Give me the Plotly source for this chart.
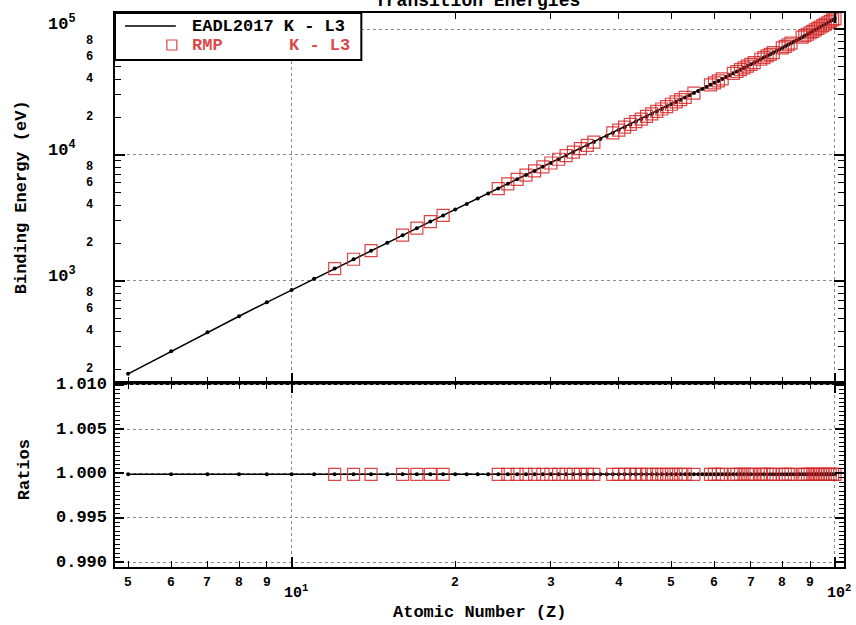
import math
import plotly.graph_objects as go

# ---------------- data ----------------
Z_EADL = [5, 6, 7, 8, 9, 10, 11, 12, 13, 14, 15, 16, 17, 18, 19, 20, 21, 22, 23, 24,
          25, 26, 27, 28, 29, 30, 31, 32, 33, 34, 35, 36, 37, 38, 39, 40, 41, 42, 43, 44,
          45, 46, 47, 48, 49, 50, 51, 52, 53, 54, 55, 56, 57, 58, 59, 60, 61, 62, 63, 64,
          65, 66, 67, 68, 69, 70, 71, 72, 73, 74, 75, 76, 77, 78, 79, 80, 81, 82, 83, 84,
          85, 86, 87, 88, 89, 90, 91, 92, 93, 94, 95, 96, 97, 98, 99, 100]
E_EADL = [183, 277, 392, 525, 677, 849, 1041, 1254, 1487, 1740, 2014, 2308, 2622, 2958, 3314, 3692,
          4091, 4511, 4952, 5415, 5899, 6404, 6930, 7478, 8048, 8639, 9252, 9886, 10544, 11222,
          11924, 12649, 13395, 14165, 14958, 15775, 16615, 17479, 18367, 19279, 20216, 21177,
          22163, 23174, 24210, 25271, 26359, 27472, 28612, 29779, 30973, 32194, 33442, 34720,
          36026, 37361, 38725, 40118, 41542, 42996, 44482, 45998, 47547, 49128, 50742, 52389,
          54070, 55790, 57532, 59318, 61140, 63001, 64896, 66832, 68804, 70819, 72872, 74969,
          77108, 79290, 81520, 83780, 86100, 88470, 90884, 93350, 95868, 98439, 101059, 103734,
          106472, 109271, 112121, 115032, 118012, 121058]
R_EADL = [0.9999, 0.9999, 0.9999, 0.9999, 0.9999, 0.9999, 0.9999, 0.9999, 0.9999, 0.9999,
          0.9999, 0.9999, 0.9999, 0.9999, 0.9999, 0.9999, 0.9999, 0.9999, 0.9999, 0.9999,
          0.9999, 0.9999, 0.9999, 0.9999, 0.9999, 0.9999, 0.9999, 0.9999, 0.9999, 0.9999,
          0.9999, 0.9999, 0.9999, 0.9999, 0.9999, 0.9999, 0.9999, 0.9999, 0.9999, 0.9999,
          0.9999, 0.9999, 0.9999, 0.9999, 0.9999, 0.9999, 0.9999, 0.9999, 0.9999, 0.9999,
          0.9999, 0.9999, 0.9999, 0.9999, 0.9999, 0.9999, 0.9999, 0.9999, 0.9999, 0.9999,
          0.9999, 0.9999, 0.9999, 0.9999, 0.9999, 0.9999, 0.9999, 0.9999, 0.9999, 0.9999,
          0.9999, 0.9999, 0.9999, 0.9999, 0.9999, 0.9999, 0.9999, 0.9999, 0.9999, 0.9999,
          0.9999, 0.9999, 0.9999, 0.9999, 0.9999, 0.9999, 0.9999, 0.9999, 0.9999, 0.9999,
          0.9999, 0.9999, 0.9999, 0.9999, 0.9999, 0.9999]

Z_RMP = [12, 13, 14, 16, 17, 18, 19, 24, 25, 26, 27, 28, 29, 30, 31, 32, 33, 34, 35, 36,
         39, 40, 41, 42, 43, 44, 45, 46, 47, 48, 49, 50, 51, 52, 53, 55, 59, 60, 61, 62,
         65, 66, 67, 68, 69, 70, 71, 73, 74, 75, 76, 77, 80, 81, 82, 83, 87, 88, 89, 90,
         91, 92, 93, 94, 95, 96, 97, 98, 99, 100]
E_RMP = [1254, 1487, 1740, 2308, 2622, 2958, 3314, 5415, 5899, 6404, 6930, 7478, 8048, 8639,
         9252, 9886, 10544, 11222, 11924, 12649, 14958, 15775, 16615, 17479, 18367, 19279,
         20216, 21177, 22163, 23174, 24210, 25271, 26359, 27472, 28612, 30973, 36026, 37361,
         38725, 40118, 44482, 45998, 47547, 49128, 50742, 52389, 54070, 57532, 59318, 61140,
         63001, 64896, 70819, 72872, 74969, 77108, 86100, 88470, 90884, 93350, 95868, 98439,
         101059, 103734, 106472, 109271, 112121, 115032, 118012, 121058]
R_RMP = [0.9999, 0.9999, 0.9999, 0.9999, 0.9999, 0.9999, 0.9999, 0.9999, 0.9999, 0.9999,
         0.9999, 0.9999, 0.9999, 0.9999, 0.9999, 0.9999, 0.9999, 0.9999, 0.9999, 0.9999,
         0.9999, 0.9999, 0.9999, 0.9999, 0.9999, 0.9999, 0.9999, 0.9999, 0.9999, 0.9999,
         0.9999, 0.9999, 0.9999, 0.9999, 0.9999, 0.9999, 0.9999, 0.9999, 0.9999, 0.9999,
         0.9999, 0.9999, 0.9999, 0.9999, 0.9999, 0.9999, 0.9999, 0.9999, 0.9999, 0.9999,
         0.9999, 0.9999, 0.9999, 0.9999, 0.9999, 0.9999, 0.9999, 0.9999, 0.9999, 0.9999,
         0.9999, 0.9999, 0.9999, 0.9999, 0.9999, 0.9999, 0.9999, 0.9999, 0.9999, 0.9999]

X_TICK_VALS = [5, 6, 7, 8, 9, 10, 20, 30, 40, 50, 60, 70, 80, 90, 100]
X_TICK_TEXT = ["5", "6", "7", "8", "9", "10<sup>1</sup>", "2", "3", "4", "5", "6", "7", "8", "9",
               "10<sup>2</sup>"]
X_MAJOR = [10, 100]
X_MINOR = [5, 6, 7, 8, 9, 20, 30, 40, 50, 60, 70, 80, 90]

Y_MAJOR_VALS = [1e3, 1e4, 1e5]
Y_MAJOR_TEXT = ["10<sup>3</sup>", "10<sup>4</sup>", "10<sup>5</sup>"]
Y_MINOR_LABEL_VALS = [200, 400, 600, 800, 2000, 4000, 6000, 8000, 20000, 40000, 60000, 80000]
Y_MINOR_LABEL_TEXT = ["2", "4", "6", "8", "2", "4", "6", "8", "2", "4", "6", "8"]
Y_MINOR_TICKS = [200, 300, 400, 500, 600, 700, 800, 900, 2000, 3000, 4000, 5000, 6000, 7000,
                 8000, 9000, 20000, 30000, 40000, 50000, 60000, 70000, 80000, 90000]

R_TICK_VALS = [0.990, 0.995, 1.000, 1.005, 1.010]
R_TICK_TEXT = ["0.990", "0.995", "1.000", "1.005", "1.010"]

TITLE = "Transition Energies"
X_TITLE = "Atomic Number (Z)"
Y_TITLE = "Binding Energy (eV)"
R_TITLE = "Ratios"
LEG1 = "EADL2017 K - L3"
LEG2A = "RMP"
LEG2B = "K - L3"

# ---------------- style ----------------
W, H = 856, 625
ML, MR, MT, MB = 115, 10, 13, 58
PW, PH = W - ML - MR, H - MT - MB
SPLIT = (567 - 383) / PH
RED = "rgba(214,38,38,0.85)"
MONO = "Liberation Mono"


def px(x):
    return (x - ML) / PW


def py(y):
    return (H - MB - y) / PH


fig = go.Figure()
fig.add_trace(go.Scatter(x=Z_EADL, y=E_EADL, mode="lines+markers", xaxis="x", yaxis="y",
                         line=dict(color="black", width=1.5), marker=dict(size=4, color="black"),
                         showlegend=False))
fig.add_trace(go.Scatter(x=Z_RMP, y=E_RMP, mode="markers", xaxis="x", yaxis="y",
                         marker=dict(symbol="square-open", size=12, color=RED, line=dict(width=1.2)),
                         showlegend=False))
fig.add_trace(go.Scatter(x=Z_EADL, y=R_EADL, mode="lines+markers", xaxis="x2", yaxis="y2",
                         line=dict(color="black", width=1.5), marker=dict(size=4, color="black"),
                         showlegend=False))
fig.add_trace(go.Scatter(x=Z_RMP, y=R_RMP, mode="markers", xaxis="x2", yaxis="y2",
                         marker=dict(symbol="square-open", size=12, color=RED, line=dict(width=1.2)),
                         showlegend=False))

xrange = [math.log10(4.73), math.log10(103.9)]
common_x = dict(type="log", range=xrange, domain=[0, 1], showline=True, linewidth=2,
                linecolor="black", mirror="allticks", ticks="inside", ticklen=10, tickwidth=1.5,
                tickcolor="black", tickmode="array", tickvals=X_MAJOR, showticklabels=False,
                showgrid=True, gridcolor="#8a8a8a", gridwidth=1, griddash="dot", zeroline=False,
                minor=dict(tickmode="array", tickvals=X_MINOR, ticks="inside", ticklen=6,
                           tickwidth=1.2, tickcolor="black", showgrid=False))

fig.update_layout(
    width=W, height=H, margin=dict(l=ML, r=MR, t=MT, b=MB),
    paper_bgcolor="white", plot_bgcolor="white", showlegend=False,
    xaxis=dict(common_x, anchor="y"),
    xaxis2=dict(common_x, anchor="y2", matches="x"),
    yaxis=dict(type="log", range=[2.19, 5.127], domain=[SPLIT, 1], anchor="x", showline=True,
               linewidth=2, linecolor="black", mirror="allticks", ticks="inside", ticklen=10,
               tickwidth=1.5, tickcolor="black", tickmode="array", tickvals=Y_MAJOR_VALS,
               showticklabels=False, showgrid=True, gridcolor="#8a8a8a", gridwidth=1,
               griddash="dot", zeroline=False,
               minor=dict(tickmode="array", tickvals=Y_MINOR_TICKS, ticks="inside", ticklen=6,
                          tickwidth=1.2, tickcolor="black", showgrid=False)),
    yaxis2=dict(range=[0.98944, 1.0102], domain=[0, SPLIT], anchor="x2", showline=True,
                linewidth=2, linecolor="black", mirror="allticks", ticks="inside", ticklen=9,
                tickwidth=1.5, tickcolor="black", tickmode="array", tickvals=R_TICK_VALS,
                showticklabels=False, showgrid=True, gridcolor="#8a8a8a", gridwidth=1,
                griddash="dot", zeroline=False,
                minor=dict(dtick=0.0005, ticks="inside", ticklen=5, tickwidth=1,
                           tickcolor="black", showgrid=False)),
)

ann = []
# x tick labels
for v, t in zip(X_TICK_VALS, X_TICK_TEXT):
    if "sup" in t:
        ann.append(dict(x=math.log10(v), y=py(592), xref="x2", yref="paper", text=t,
                        showarrow=False, xanchor="left", yanchor="middle", xshift=-10,
                        font=dict(family=MONO, size=15, color="black", weight="bold")))
    else:
        ann.append(dict(x=math.log10(v), y=py(582), xref="x2", yref="paper", text=t,
                        showarrow=False, xanchor="center", yanchor="middle",
                        font=dict(family=MONO, size=13, color="black", weight="bold")))
# y tick labels top panel
for v, t in zip(Y_MAJOR_VALS, Y_MAJOR_TEXT):
    ann.append(dict(x=px(78), y=math.log10(v), xref="paper", yref="y", text=t, showarrow=False,
                    xanchor="right", yanchor="middle", yshift=6,
                    font=dict(family=MONO, size=17, color="black", weight="bold")))
for v, t in zip(Y_MINOR_LABEL_VALS, Y_MINOR_LABEL_TEXT):
    ann.append(dict(x=px(89), y=math.log10(v), xref="paper", yref="y", text=t, showarrow=False,
                    xanchor="center", yanchor="middle",
                    font=dict(family=MONO, size=12, color="black", weight="bold")))
# ratio tick labels
for v, t in zip(R_TICK_VALS, R_TICK_TEXT):
    ann.append(dict(x=px(109), y=v, xref="paper", yref="y2", text=t, showarrow=False,
                    xanchor="right", yanchor="middle",
                    font=dict(family=MONO, size=17, color="black", weight="bold")))
# titles
ann.append(dict(x=px(480), y=py(612), xref="paper", yref="paper", text=X_TITLE, showarrow=False,
                xanchor="center", yanchor="middle",
                font=dict(family=MONO, size=17, color="black", weight="bold")))
ann.append(dict(x=px(22), y=py(197), xref="paper", yref="paper", text=Y_TITLE, showarrow=False,
                textangle=-90, xanchor="center", yanchor="middle",
                font=dict(family=MONO, size=17, color="black", weight="bold")))
ann.append(dict(x=px(24), y=py(470), xref="paper", yref="paper", text=R_TITLE, showarrow=False,
                textangle=-90, xanchor="center", yanchor="middle",
                font=dict(family=MONO, size=17, color="black", weight="bold")))
ann.append(dict(x=px(478), y=py(1), xref="paper", yref="paper", text=TITLE, showarrow=False,
                xanchor="center", yanchor="middle",
                font=dict(family=MONO, size=18, color="black", weight="bold")))
# legend texts
ann.append(dict(x=px(190), y=py(26), xref="paper", yref="paper", text=LEG1, showarrow=False,
                xanchor="left", yanchor="middle",
                font=dict(family=MONO, size=17, color="black", weight="bold")))
ann.append(dict(x=px(190), y=py(45), xref="paper", yref="paper", text=LEG2A, showarrow=False,
                xanchor="left", yanchor="middle",
                font=dict(family=MONO, size=17, color=RED, weight="bold")))
ann.append(dict(x=px(287), y=py(45), xref="paper", yref="paper", text=LEG2B, showarrow=False,
                xanchor="left", yanchor="middle",
                font=dict(family=MONO, size=17, color=RED, weight="bold")))

shapes = [
    dict(type="rect", xref="paper", yref="paper", x0=px(115), x1=px(362), y0=py(60), y1=py(13),
         fillcolor="white", line=dict(color="black", width=2), layer="above"),
    dict(type="line", xref="paper", yref="paper", x0=px(125), x1=px(176), y0=py(26), y1=py(26),
         line=dict(color="black", width=1.5), layer="above"),
    dict(type="rect", xref="paper", yref="paper", x0=px(167), x1=px(177), y0=py(50), y1=py(40),
         line=dict(color=RED, width=1.2), layer="above"),
]

fig.update_layout(annotations=ann, shapes=shapes)
fig.write_html("out.html", config={"displayModeBar": False},
               post_script="document.body.style.margin='0';document.body.style.overflow='hidden';")
